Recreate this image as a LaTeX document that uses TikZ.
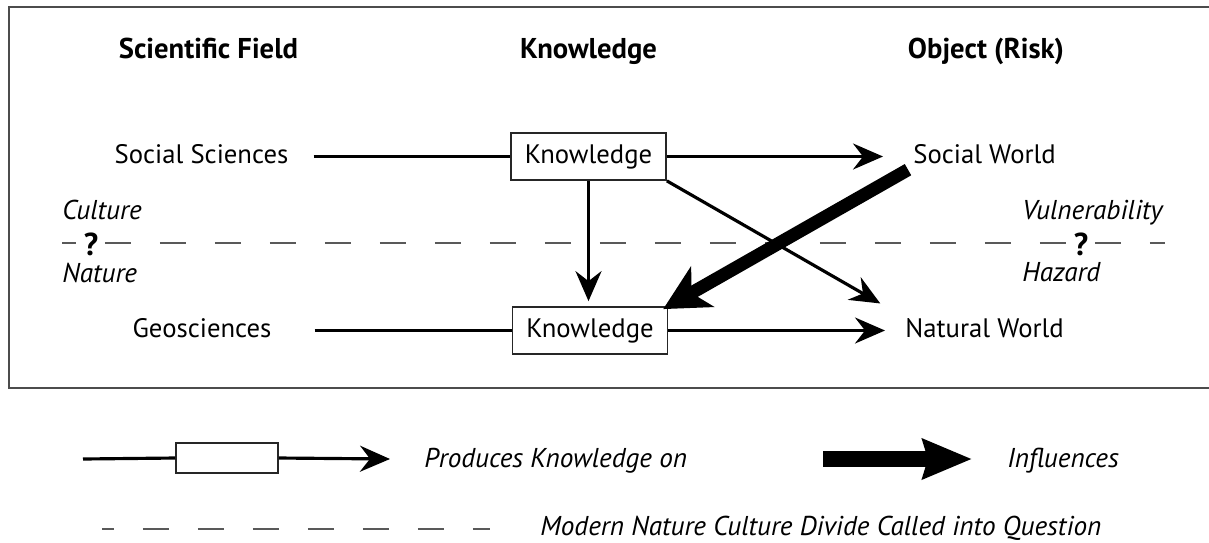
\documentclass[tikz,border=0pt]{standalone}
\usepackage{fontspec}
\setmainfont{PT Sans}
\usetikzlibrary{arrows.meta}

\begin{document}
\begin{tikzpicture}
[x=0.02cm,y=-0.02cm,%
  textDecorate/.style={inner sep=0pt,font=\fontsize{15.2}{18}\selectfont},%
  headDecorate/.style={inner sep=0pt,font=\fontsize{16.3}{19}\selectfont\bfseries},%
  italicDecorate/.style={inner sep=0pt,font=\fontsize{15.5}{18}\selectfont\itshape},%
  questDecorate/.style={inner sep=0pt,font=\fontsize{18}{20}\selectfont\bfseries},%
  boxDecorate/.style={draw=black!85,line width=1pt,minimum width=3.1cm,minimum height=0.94cm,textDecorate},%
  lineDecorate/.style={line width=1.8pt},%
  arrowDecorate/.style={lineDecorate,-{Stealth[length=0.6cm,width=0.52cm,inset=0.2cm]}},%
  thickDecorate/.style={line width=0.26cm,-{Stealth[length=0.9cm,width=0.92cm,inset=0.25cm]}},%
  divideDecorate/.style={draw=black!65,line width=1.3pt,dash pattern=on 0.52cm off 0.58cm,dash phase=0.24cm},%
  frameDecorate/.style={draw=black!70,line width=1.3pt}]
\useasboundingbox (0,0) rectangle (1209,542);
%% frame
\draw[frameDecorate] (1209,7) -- (9,7) -- (9,388) -- (1209,388);
%% column heads
\foreach \nodename/\x/\txt in {
  hdField/208.5/Scientific Field, hdKnow/588.5/Knowledge, hdObject/986/Object (Risk)}
{
  \node (\nodename) at (\x,58) [headDecorate,anchor=base] {\txt};
}
%% fields, knowledge and objects
\node (socSci) at (201.5,163) [textDecorate,anchor=base] {Social Sciences};
\node (geoSci) at (202,337) [textDecorate,anchor=base] {Geosciences};
\node (knowTop) at (588.5,156.5) [boxDecorate] {Knowledge};
\node (knowBot) at (590,330.5) [boxDecorate] {Knowledge};
\node (socWorld) at (913,163) [textDecorate,anchor=base west] {Social World};
\node (natWorld) at (905,337) [textDecorate,anchor=base west] {Natural World};
%% nature culture divide
\foreach \nodename/\x/\y/\txt in {
  culture/62/219/Culture, nature/62/282/Nature,
  vulner/1022/219/Vulnerability, hazard/1022/281/Hazard}
{
  \node (\nodename) at (\x,\y) [italicDecorate,anchor=base west] {\txt};
}
\coordinate (divLeft) at (62,243);
\coordinate (divRight) at (1165,243);
\draw[divideDecorate] (divLeft) -- (divRight);
\node (qLeft) at (91,255) [questDecorate,anchor=base] {?};
\node (qRight) at (1081,255) [questDecorate,anchor=base] {?};
%% edges
\draw[lineDecorate,shorten <=0.5cm] (socSci.east |- knowTop.west) -- (knowTop.west);
\draw[lineDecorate,shorten <=0.86cm] (geoSci.east |- knowBot.west) -- (knowBot.west);
\draw[arrowDecorate,shorten >=0.6cm] (knowTop.east) -- (knowTop.east -| socWorld.west);
\draw[arrowDecorate,shorten >=0.4cm] (knowBot.east) -- (knowBot.east -| natWorld.west);
\draw[arrowDecorate,shorten >=0.1cm] (knowTop.south) -- (knowTop.south |- knowBot.north);
\draw[arrowDecorate,shorten >=0.57cm] (knowTop.south east) -- (natWorld.north west);
\draw[thickDecorate,shorten >=-0.12cm] ([shift={(-5,6)}]socWorld.south west) -- (knowBot.north east);
%% legend
\coordinate (legStart) at (83,459);
\coordinate (legTip) at (390,459);
\node (legBox) at (227,458) [boxDecorate,minimum width=2.04cm,minimum height=0.6cm] {};
\draw[lineDecorate] (legStart) -- (legBox.west);
\draw[arrowDecorate] (legBox.east) -- (legTip);
\node (legProduce) at (424,467) [italicDecorate,anchor=base west] {Produces Knowledge on};
\coordinate (legThickStart) at (823,459);
\coordinate (legThickTip) at (972,459);
\draw[line width=0.32cm,-{Stealth[length=0.98cm,width=0.78cm,inset=0.1cm]}] (legThickStart) -- (legThickTip);
\node (legInfluence) at (1007,467) [italicDecorate,anchor=base west] {Influences};
\coordinate (legDivLeft) at (102,529);
\coordinate (legDivRight) at (490,529);
\draw[divideDecorate,dash phase=0.28cm] (legDivLeft) -- (legDivRight);
\node (legDivide) at (540,535) [italicDecorate,anchor=base west] {Modern Nature Culture Divide Called into Question};
\end{tikzpicture}
\end{document}
